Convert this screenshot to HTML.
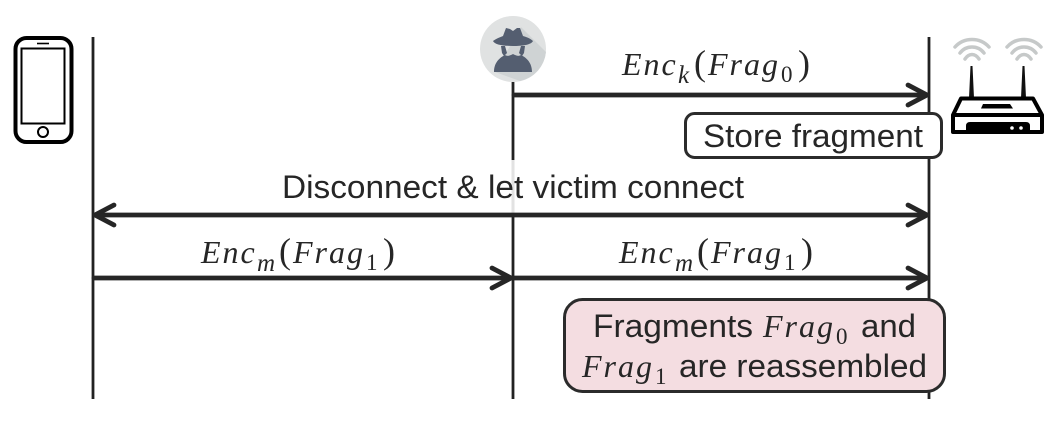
<!DOCTYPE html>
<html><head><meta charset="utf-8"><style>
html,body{margin:0;padding:0;background:#fff}
svg{display:block;filter:blur(.35px)}
.s{font-family:"Liberation Sans",sans-serif;font-size:32px;fill:#262626}
.m{font-family:"Liberation Serif",serif;font-style:italic;font-size:32px;letter-spacing:2px;fill:#262626}
.b{font-family:"Liberation Serif",serif;font-size:23px;fill:#262626}
.i{font-family:"Liberation Serif",serif;font-style:italic;font-size:25px;fill:#262626}
.p{font-family:"Liberation Serif",serif;font-size:36px;fill:#262626}
</style></head><body>
<svg width="1057" height="427" viewBox="0 0 1057 427" xmlns="http://www.w3.org/2000/svg">
<rect width="1057" height="427" fill="#fff"/>
<!-- lifelines -->
<g stroke="#222" stroke-width="2.800" fill="none">
<line x1="93" y1="37" x2="93" y2="399"/>
<line x1="513" y1="82" x2="513" y2="160"/>
<line x1="513" y1="213" x2="513" y2="399"/>
<line x1="929" y1="37" x2="929" y2="399"/>
</g>
<line x1="513" y1="160" x2="513" y2="213" stroke="#e2e2e2" stroke-width="3"/>
<!-- phone -->
<g fill="none" stroke="#000">
<rect x="15.500" y="38" width="56" height="104" rx="11" stroke-width="4"/>
<rect x="21.500" y="48.500" width="43" height="75" stroke-width="2"/>
<line x1="37" y1="43.500" x2="49" y2="43.500" stroke-width="1.600"/>
<circle cx="43" cy="132" r="5" stroke-width="2"/>
</g>
<!-- attacker -->
<circle cx="513" cy="49" r="33" fill="#e0e2e2"/>
<path d="M521 27 L546 52 A33 33 0 0 1 520 81 L495 72 Z" fill="#cfd3d4"/>
<g fill="#545e70">
<path d="M493 41 C497 38 501 37 503 36 L506 28 L510 29 L513 31 L517 28 L520 28 L523 36 C526 37 530 38 533 41 C531 45 522 46 513 46 C504 46 495 45 493 41 Z"/>
<path d="M494 72 C494 63 499 58 505 55 C508 57 511 55 513 54 C515 55 518 57 521 55 C527 58 532 63 532 72 Z"/>
<path d="M501 46 L505 46 L507 53 L504 56 L502 53 Z M521 46 L525 46 L524 53 L522 56 L519 53 Z"/>
</g>
<!-- router -->
<g fill="none" stroke="#c6c9c9" stroke-width="3.500" stroke-linecap="round">
<path d="M955 47 C964 37 980 37 989 47"/><path d="M960 53 C966 45 978 45 984 53"/><path d="M965 59 C969 53 975 53 979 59"/>
<path d="M1007 47 C1016 37 1032 37 1041 47"/><path d="M1012 53 C1018 45 1030 45 1036 53"/><path d="M1017 59 C1021 53 1027 53 1031 59"/>
</g>
<path d="M970.500 66 L972.500 66 L974 98 L969 98 Z M1022.500 66 L1024.500 66 L1026 98 L1021 98 Z" fill="#111"/>
<path d="M961 98.500 H1033 L1042 115 V132 H953 V115 Z" fill="#fff" stroke="#000" stroke-width="4" stroke-linejoin="round"/>
<line x1="953" y1="115" x2="1042" y2="115" stroke="#000" stroke-width="4"/>
<path d="M983 104 H1010 L1013 108.500 H981 Z" fill="#000"/>
<path d="M966 132 V126 Q966 122 970 122 H1026 Q1030 122 1030 126 V132 Z" fill="#000"/>
<circle cx="1012" cy="128" r="1.800" fill="#fff"/><circle cx="1021" cy="128" r="1.800" fill="#fff"/>
<!-- arrows -->
<g stroke="#262626" stroke-width="4.800" fill="none" stroke-linecap="round" stroke-linejoin="round">
<line x1="514" y1="95" x2="926" y2="95"/><path d="M908 85 L927 95 L908 105"/>
<line x1="96" y1="215" x2="926" y2="215"/><path d="M908 205 L927 215 L908 225"/><path d="M114 205 L95 215 L114 225"/>
<line x1="94" y1="278" x2="510" y2="278"/><path d="M492 268 L511 278 L492 288"/>
<line x1="514" y1="278" x2="926" y2="278"/><path d="M908 268 L927 278 L908 288"/>
</g>
<!-- boxes -->
<rect x="685.500" y="113.500" width="256" height="44" rx="9" fill="#fff" stroke="#2b2b2b" stroke-width="3"/>
<rect x="564.500" y="299.500" width="380" height="92" rx="18" fill="#f4dde1" stroke="#2b2b2b" stroke-width="3"/>
<!-- text -->
<text class="s" x="703" y="147" textLength="220" lengthAdjust="spacingAndGlyphs">Store fragment</text>
<text class="s" x="282" y="198" textLength="462" lengthAdjust="spacingAndGlyphs">Disconnect &amp; let victim connect</text>

<g transform="translate(622,75)">
<text class="m" x="0" y="0">Enc</text><text class="i" x="56" y="8">k</text><text class="p" x="72" y="0">(</text><text class="m" x="86" y="0">Frag</text><text class="b" x="159" y="7">0</text><text class="p" x="176" y="0">)</text>
</g>
<g transform="translate(201,263)">
<text class="m" x="0" y="0">Enc</text><text class="i" x="56" y="8">m</text><text class="p" x="78" y="0">(</text><text class="m" x="92" y="0">Frag</text><text class="b" x="165" y="7">1</text><text class="p" x="182" y="0">)</text>
</g>
<g transform="translate(619,263)">
<text class="m" x="0" y="0">Enc</text><text class="i" x="56" y="8">m</text><text class="p" x="78" y="0">(</text><text class="m" x="92" y="0">Frag</text><text class="b" x="165" y="7">1</text><text class="p" x="182" y="0">)</text>
</g>
<text class="s" x="593" y="337" textLength="160" lengthAdjust="spacingAndGlyphs">Fragments</text>
<text class="m" x="763" y="337">Frag</text><text class="b" x="836" y="344">0</text>
<text class="s" x="861" y="337" textLength="55" lengthAdjust="spacingAndGlyphs">and</text>
<text class="m" x="582" y="377">Frag</text><text class="b" x="655" y="384">1</text>
<text class="s" x="679" y="377" textLength="248" lengthAdjust="spacingAndGlyphs">are reassembled</text>
</svg>
</body></html>
